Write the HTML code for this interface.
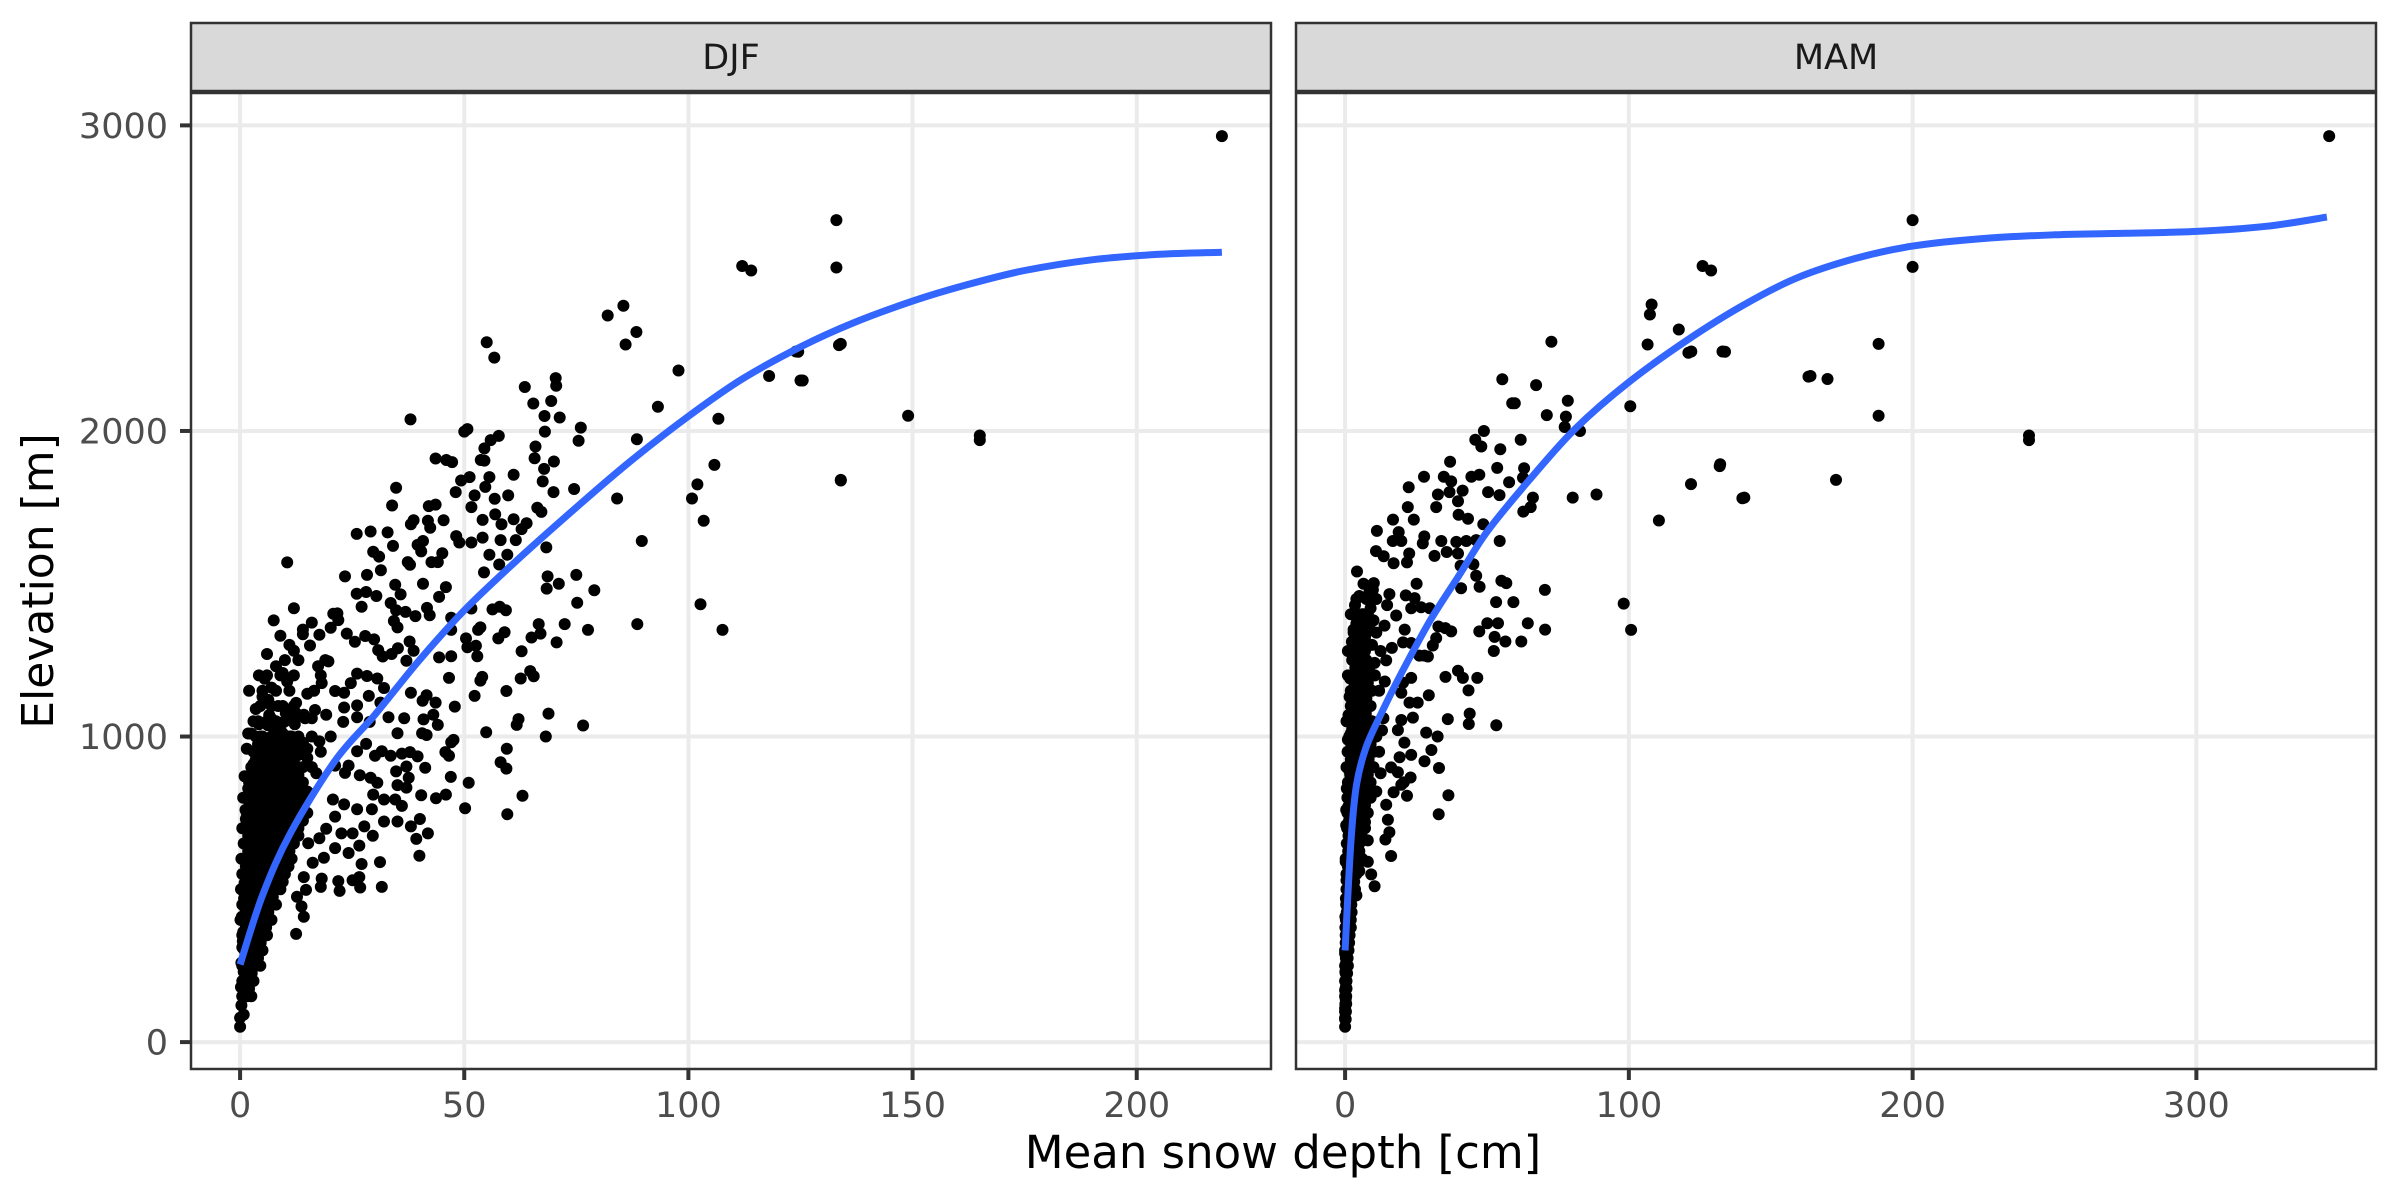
<!DOCTYPE html>
<html><head><meta charset="utf-8"><style>
html,body{margin:0;padding:0;background:#fff;}
svg{display:block;font-family:"DejaVu Sans","Liberation Sans",sans-serif;}
</style></head>
<body>
<svg id="chart" width="2400" height="1200" viewBox="0 0 2400 1200" xmlns="http://www.w3.org/2000/svg">
<rect x="0" y="0" width="2400" height="1200" fill="#fff"/>
<g id="layer"></g>
<text x="1283" y="1168" font-size="45" text-anchor="middle" fill="#000">Mean snow depth [cm]</text>
<text transform="translate(53,581) rotate(-90)" font-size="44" text-anchor="middle" fill="#000">Elevation [m]</text>
</svg>
<script>
const yTicks = [0, 1000, 2000, 3000];
const djfXTicks = [0, 50, 100, 150, 200];
const mamXTicks = [0, 100, 200, 300];
const djfCurve = [[0,254],[5,480],[11.2,683],[21.2,921],[30,1070],[40,1250],[50,1413],[62,1580],[75,1750],[87,1900],[100,2048],[112,2170],[125,2275],[137,2355],[150,2425],[162,2478],[175,2525],[190,2560],[205,2578],[219,2585]];
const mamCurve = [[0,300],[2,650],[4,840],[7.4,965],[13.3,1086],[20,1210],[30,1380],[40,1525],[50,1670],[64.5,1835],[81,2006],[100,2160],[121,2300],[140,2410],[159,2500],[180,2565],[200,2605],[225,2630],[250,2642],[275,2647],[300,2653],[325,2670],[346,2700]];
const djfPoints = [[219,2965],[133,2690],[133,2535],[112,2540],[114,2525],[134,2285],[149,2050],[165,1985],[165,1970],[134,1840],[124,2260],[125,2165],[118,2180],
[82,2378],[85.5,2410],[88.4,2324],[86,2283],[55,2290],[56.7,2240],[38,2038],[97.8,2198],[93.2,2079],[124.5,2259],[133.6,2281],[125.5,2165],[106.7,2040],[105.8,1889],[102,1825],[100.8,1779],[103.4,1706],[134,1838],[89.6,1640],[84.1,1779],[88.5,1973],[102.7,1433],[107.6,1349],[88.6,1368],[79,1479],[75,1529],[75.2,1438],[77.6,1349],[76.5,1036],[68.2,1000],[59.5,960],[59.6,746],[63,806],[51,849],[50.2,765],[70.4,2173],[70.5,2148],[63.5,2144],[65.4,2090],[69.4,2098],[67.9,2049],[71.3,2044],[76,2011],[75.5,1968],[68,1998],[65.9,1949],[65.7,1911],[70,1900],[67.8,1876],[67.5,1835],[69.9,1800],[74.5,1810],[66.3,1749],[67.2,1735],[61,1857],[57.7,1984],[55.9,1970],[54.5,1943],[50.7,2006],[50,1998],[54.5,1903],[53.7,1905],[55.6,1849],[54.7,1817],[56.8,1778],[59.8,1789],[43.6,1910],[46,1905],[47.3,1898],[49.3,1838],[51.2,1849],[48.1,1800],[52.3,1789],[51.6,1751],[54.1,1709],[56.9,1727],[58.3,1695],[61,1711],[63.9,1698],[62.8,1679],[61.5,1643],[58.1,1643],[54.1,1651],[51.6,1635],[48.9,1635],[48.2,1656],[55.6,1595],[57.8,1563],[59.6,1595],[54.4,1537],[68.3,1619],[68.6,1524],[71.1,1500],[68.4,1484],[66.6,1368],[65,1324],[67,1337],[70.6,1308],[72.4,1368],[62.8,1279],[62.6,1190],[65.5,1197],[64.7,1214],[59.4,1149],[59.3,1413],[57.9,1425],[56.3,1416],[57.6,1321],[59,1341],[53.1,1349],[53.6,1357],[51.6,1419],[47.1,1389],[47.1,1349],[50.4,1321],[50.7,1292],[52.6,1297],[52.9,1263],[44.4,1259],[47.1,1263],[46.6,1192],[54,1195],[53.6,1183],[52.3,1133],[47.9,1098],[54.9,1014],[61.7,1038],[62.1,1057],[68.8,1075],[58.1,916],[59.4,895],[45.8,949],[46.6,937],[47.1,981],[47.6,989],[47,868],[45.9,810],[43.7,798],[40.4,808],[41.3,898],[39.6,935],[37.1,902],[34.8,886],[40.1,730],[41.9,683],[39.3,665],[40,610],[31.6,508],[31.2,589],[26.8,506],[22.2,495],[21.9,527],[25.1,530],[26.6,540],[27.1,583],[18,508],[18.2,535],[14.7,498],[14.2,410],[12.5,354],[13.7,444],[10.5,1570],[5.5,1189],[9.5,1208],[12,1281],[14,1335],[16,1373],[17.7,1333],[15.6,1298],[20.2,1356],[21.7,1403],[23.4,1524],[26,1663],[29.1,1671],[32.9,1668],[34.1,1624],[34.8,1814],[33.9,1756],[29.7,1605],[31,1589],[31.4,1544],[28.3,1529],[26,1467],[28.1,1473],[30.4,1460],[27.1,1425],[34.6,1497],[35.8,1465],[33.6,1437],[34.8,1413],[34.3,1378],[35.1,1357],[36.9,1408],[38.1,1695],[38.7,1708],[41.9,1706],[42.4,1683],[42.1,1754],[43.6,1759],[45.4,1708],[39.6,1627],[40.8,1640],[40.4,1606],[42.7,1571],[44.1,1571],[45.1,1600],[37.4,1571],[37.9,1562],[40.8,1500],[45.9,1489],[44.4,1457],[41.7,1421],[42.3,1397],[39.1,1394],[37.8,1311],[38.7,1281],[35.2,1289],[37.1,1248],[33.8,1270],[31.8,1262],[30.8,1283],[29.9,1318],[27.9,1329],[25.6,1310],[23.8,1337],[21.9,1381],[20.8,1402],[19.7,1246],[17.4,1230],[18.2,1175],[21.2,1149],[23.2,1143],[24.7,1175],[26.1,1206],[28.3,1198],[30.6,1190],[32.1,1159],[31.3,1111],[28.7,1133],[26.1,1102],[23.2,1095],[19.2,1071],[16.7,1087],[14.2,1071],[12.5,1076],[10.2,1076],[6.9,1060],[6.2,1037],[9,1027],[6.9,982],[5,933],[9.8,971],[12.2,976],[15,960],[17.7,984],[20.2,1000],[23,1048],[26.1,1063],[28.9,1048],[33.1,1063],[36.6,1060],[35.1,1011],[38.1,1143],[40.7,1117],[41.6,1135],[43.6,1111],[43.1,1071],[40.9,1056],[40.6,1011],[41.6,1005],[44.1,1038],[37.9,949],[36.1,944],[33.6,937],[31.6,952],[30.1,937],[28.1,976],[26.1,952],[24.2,905],[21.2,905],[23.4,881],[26.7,873],[29.1,865],[30.6,849],[35.1,841],[37.6,865],[37.1,833],[34.6,794],[36.1,773],[32.1,794],[29.7,810],[29.4,762],[26.1,762],[23.2,778],[20.7,794],[21.2,738],[19.2,698],[22.6,683],[25.1,683],[27.7,706],[29.6,675],[32.1,722],[35.1,722],[38.1,706],[26.6,643],[24.2,619],[21.2,635],[18.7,603],[17.7,667],[16.2,587],[15.2,651],[14.2,540],[12.7,476],
[0,50],[0,80],[0.3,120],[0.5,150],[0.2,180],[1,200],[0.8,230],[1.5,250],[0.3,260],[1.2,280],[2,300],[0.5,310],[1.8,330],[2.5,350],[0.7,360],[1.3,380],[3,390],[2.2,400],[0.4,410],[3.5,420],[1.6,440],[2.8,450],[4,460],[0.9,470],[3.3,480],[4.5,490],[2,500],[1,520],[3.8,530],[5,540],[2.6,550],[4.4,560],[6,570],[1.4,580],[3.1,590],[5.5,600],[7,610],[2.3,620],[4,630],[6.5,640],[0.8,650],[3.5,660],[5,670],[8,680],[2,690],[4.6,700],[7.5,710],[9,720],[1.3,730],[3,740],[6,750],[10,760],[5.2,770],[8.5,780],[2.5,790],[4,800],[7,810],[11,820],[1.8,830],[6.3,840],[9.5,850],[3.6,860],[5.8,870],[12,880],[8,890],[2.8,900],[4.8,910],[10.5,920],[7,930],[13,940],[3.8,950],[6,960],[9,970],[14,980],[5,990],[11.5,1000],[2.5,1010],[7.8,1020],[4.2,1040],[10,1050],[16,1060],[6.5,1070],[3.5,1090],[8.5,1100],[12.5,1110],[5,1130],[15,1140],[7,1160],[10.5,1180],[4.2,1200],[8,1230],[13,1250],[6,1270],[11,1300],[9,1330],[14,1350],[7.5,1380],[12,1420],[10,1250],[2,1150],[3,1050],[1.5,960],[1,870],[1.2,760],[0.5,700],[0.3,600],[0.2,500],[0.1,400],[0.6,330],[1.1,440],[2,410],[3,330],[2.6,260],[1.5,170],[0.8,90],[4,370],[5,430],[6,500],[7,540],[8,600],[9,650],[10,700],[11,740],[12,790],[13,840],[14,900],[15,930],[16,1000],[3,560],[4.5,610],[5.5,720],[6.5,780],[7.5,850],[8.5,920],[9.5,1010],[2,650],[3.2,700],[4.3,830],[5.8,940],[1.5,560],[2.4,470],[11,640],[9.8,580],[8.2,520],[12.5,700],[13.8,760],[15,820],[17,880],[18,950],[3.7,620],[6.8,680],[9.2,800],[10.8,880],[11.5,960],[12.2,1040],[4.6,1000],[6.3,1120],[1.8,1010],[3,910],[2.1,780],[0.7,800],[5.6,350],[3.5,280],[1.7,230],[7,460],[6,420],[14.5,1060],[16.5,1150],[18,1200],[19,1250]];
// dense core rows: [elevation, depths at that elevation]
const djfCoreRows = [[150,[0.5,1.5,2.5]],[175,[1,2]],[200,[0.5,2,3]],[225,[1.2,2.6]],[250,[0.5,2,3.5,4.5]],[275,[1.3,2.8,4]],[300,[1,2.5,4,5]],[325,[1.7,3.2,4.6]],[350,[0.5,2,3.5,5,6]],[375,[1.3,2.8,4.3,5.8]],[400,[1,2.5,4,5.5,7]],[425,[1.8,3.2,4.8,6.3]],[450,[0.5,2,3.5,5,6.5,8]],[475,[1.3,2.8,4.3,5.8,7.3]],[500,[1,2.5,4,5.5,7,9]],[525,[1.7,3.2,4.8,6.3,7.8,9.5]],[550,[0.5,2,3.5,5,6.5,8,10]],[575,[1.3,2.8,4.3,5.8,7.5,9,10.8]],[600,[1,2.5,4,5.5,7,8.5,10,11.5]],[625,[1.8,3.3,4.8,6.3,7.8,9.3,11]],[650,[1,2.5,4,5.5,7,8.5,10,12]],[675,[1.8,3.3,4.8,6.5,8,9.8,11.5,13]],[700,[1.5,3,4.5,6,7.5,9,11,13]],[725,[2.3,3.8,5.3,6.8,8.3,10,12,14]],[750,[1.5,3,4.5,6,7.5,9,11,13,15]],[775,[2.5,4,5.5,7,8.8,10.2,12,14]],[800,[2,3.5,5,6.5,8,9.5,11,13,15]],[825,[2.8,4.3,5.8,7.3,9,10.5,12.2,14]],[850,[2,3.5,5,6.5,8,10,12,14]],[875,[3,4.5,6,7.5,9,11,13]],[900,[2.5,4,5.5,7,9,11,13,16]],[925,[3.5,5,6.5,8,10,12]],[950,[3,4.5,6,8,10,12,14]],[975,[4,5.5,7,9,11]],[1000,[3.5,5,7,9,11,13]],[1050,[4,6,8,10,12]],[1100,[4.5,7,9.5,12]],[1150,[5,8,11]],[1200,[6,9,12]]];
const mamPoints = [[346.8,2965],[200,2690],[200,2537],[126,2540],[129,2525],[188,2285],[188,2050],[241,1985],[241,1970],[173,1840],[164,2180],[170,2170],[132,1885],[140,1780],[122,2260],[133,2260],
[108,2414],[107.4,2381],[106.6,2283],[117.6,2332],[121,2256],[133.9,2259],[163.3,2178],[100.5,2081],[72.7,2292],[55.4,2169],[67.3,2150],[58.9,2091],[59.8,2091],[78.5,2099],[77.8,2047],[71.1,2052],[77.4,2013],[82.8,2000],[48.9,2000],[45.9,1971],[48,1949],[61.9,1971],[54.7,1940],[37,1899],[27.8,1850],[34.8,1850],[37.4,1835],[44.5,1850],[47.3,1857],[53.6,1879],[63.1,1878],[62.7,1847],[57.8,1832],[50.4,1800],[54.4,1790],[22.4,1816],[32.7,1792],[36.8,1800],[41.4,1805],[39.8,1770],[32.1,1751],[22.1,1751],[24.2,1710],[40,1726],[43.3,1713],[66.2,1782],[65.4,1751],[62.8,1736],[80.2,1782],[88.6,1792],[132.2,1891],[121.9,1826],[140.7,1782],[110.6,1707],[48.7,1695],[54.5,1640],[16.9,1710],[18.9,1669],[11.2,1673],[16.8,1640],[19.8,1640],[27.9,1655],[27.4,1632],[33.9,1640],[39.2,1637],[42.7,1640],[46.2,1643],[10.9,1607],[13.6,1590],[17.1,1567],[21.8,1570],[22.6,1599],[31.5,1591],[35.8,1604],[39.8,1599],[40.7,1559],[45.2,1564],[46.2,1526],[40.9,1485],[47.4,1490],[55.1,1510],[56.8,1502],[70.4,1480],[98.2,1435],[100.8,1349],[53.2,1440],[59.3,1440],[50.1,1371],[53.9,1371],[47.3,1344],[52.7,1326],[56.5,1311],[62.1,1311],[64.4,1371],[70.5,1350],[52.4,1280],[37.4,1344],[35.3,1355],[32.9,1360],[32.1,1322],[30.9,1298],[28,1265],[35.4,1195],[39.8,1215],[41.5,1192],[46.6,1192],[43.5,1151],[29.5,1135],[43.9,1075],[36.2,1057],[43.6,1041],[53.3,1037],[28.6,1013],[32.6,1000],[30.4,956],[28,919],[33.1,897],[23.1,866],[20.7,850],[36.4,808],[33,746],[21.8,806],[16.2,609],[10.4,510],[25.2,1500],[10.1,1502],[8.6,1474],[15.6,1466],[21.4,1462],[24.5,1453],[23.3,1420],[26.8,1423],[29.8,1420],[14.8,1430],[18,1396],[13.9,1363],[21,1350],[20.4,1308],[23.3,1306],[26.2,1265],[29.2,1262],[16.5,1290],[14.5,1249],[10.4,1241],[23.3,1192],[20.4,1176],[19.8,1143],[22.7,1111],[25.6,1111],[23.9,1062],[19.8,1054],[18.6,1021],[20.9,980],[23.3,940],[19.2,932],[16.2,899],[18.6,883],[19.8,842],[17.1,818],[14.5,777],[15.1,728],[15.6,687],[14.2,663],[9.2,549],[8,590],
[0,50],[0,80],[0,110],[0.2,140],[0,170],[0.3,200],[0.1,230],[0.4,260],[0,290],[0.5,320],[0.2,350],[0.7,380],[0.1,410],[0.9,440],[0.3,470],[1.2,500],[0.5,530],[1.5,560],[0.2,590],[1.8,620],[0.8,650],[2.2,680],[0.4,710],[2.6,740],[1.1,770],[3,800],[0.6,830],[3.5,860],[1.4,890],[4,920],[0.9,950],[4.5,980],[2,1010],[5,1040],[1.2,1070],[5.5,1100],[2.5,1130],[6,1160],[1.8,1190],[6.5,1220],[3,1250],[7,1280],[2.4,1310],[7.5,1340],[4,1370],[8,1400],[3.5,1430],[5,1460],[6.5,1500],[4.2,1540],[9,1420],[10,1380],[11,1340],[9.5,1300],[8.5,1240],[10.5,1200],[12,1150],[8,1100],[9.5,1050],[11,1000],[7,1000],[8.5,960],[6,900],[7.5,860],[10,900],[12,950],[13,1020],[9,800],[6.5,760],[5,700],[4,640],[3,580],[2,520],[1.5,450],[1,380],[0.6,300],[0.3,180],[0.1,120],[5.5,820],[4.5,760],[3.8,700],[2.8,640],[7,720],[8,660],[6,600],[5,560],[4,480],[11,820],[12.5,880],[13.5,1060],[14,1180],[12.5,1280],[11,1450],[2,940],[1,990],[0.5,900],[1.6,1130],[1,1200],[0.5,1050],[3,1340],[2,1400],[4.5,1200],[5.5,1300],[6,1400],[1,1280],[3.5,1050],[2.5,850],[1.5,720],[0.2,600],[0.4,760],[0.7,550],[6.8,1050],[7.7,1170],[8.8,1350],[9.8,1480],[4.8,1100],[3.2,900]];
const mamCoreRows = [[75,[0,0.2]],[100,[0,0.3]],[125,[0.1,0.4]],[150,[0,0.4]],[175,[0.2,0.5]],[200,[0,0.5]],[225,[0.2,0.7]],[250,[0,0.6,1]],[275,[0.3,0.9]],[300,[0,0.5,1.2]],[325,[0.2,0.8,1.4]],[350,[0.3,1,1.6]],[375,[0.1,0.7,1.4,2]],[400,[0.3,1,2]],[425,[0.6,1.5,2.3]],[450,[0.4,1.2,2.2]],[475,[0.8,1.8,2.8]],[500,[0.5,1.4,2.5,3.5]],[525,[1,2,3.2]],[550,[0.5,1.5,2.8,4]],[575,[1,2.2,3.5,4.5]],[600,[0.6,1.6,3,4.5]],[625,[1.1,2.4,3.8,5]],[650,[0.6,1.8,3.2,5]],[675,[1.2,2.6,4.2,5.8]],[700,[0.7,2,3.5,5.5,7]],[725,[1.4,2.8,4.6,6.5]],[750,[0.8,2,3.8,6,8]],[775,[1.5,3,5,7]],[800,[0.8,2.2,4,6,8.5]],[825,[1.6,3.2,5.2,7.3]],[850,[1,2.5,4.5,6.5,9]],[875,[1.8,3.6,5.8,8]],[900,[1,2.8,5,7,9.5]],[925,[2,4,6,8.3]],[950,[1.2,3,5,7.5,10]],[975,[2.2,4.2,6.5,9]],[1000,[1.5,3.2,5.5,8,10.5]],[1025,[2.5,4.5,7,9.5]],[1050,[1.5,3.5,6,8.5]],[1075,[2.8,5,7.3]],[1100,[2,4,6,9]],[1125,[3,5,7.5]],[1150,[2,4.2,6.5,9.5]],[1175,[3.3,5.5,8]],[1200,[2.5,4.5,7,10]],[1225,[3.6,6,8.5]],[1250,[2.5,5,7.5]],[1275,[4,6.3]],[1300,[3,5.5,8]],[1325,[4.2,7]],[1350,[3,6,8.5]],[1375,[4.7,7.3]],[1400,[3.5,6.5]],[1450,[4,7.5]]];

const NS = 'http://www.w3.org/2000/svg';
const layer = document.getElementById('layer');
const yTop = 93, yBot = 1069, yMin = -88, yMax = 3106;
function yScale(v){ return yBot - (v - yMin) / (yMax - yMin) * (yBot - yTop); }
function mk(tag, attrs, parent){
  const e = document.createElementNS(NS, tag);
  for (const k in attrs) e.setAttribute(k, attrs[k]);
  (parent || layer).appendChild(e);
  return e;
}
function smoothPath(pts){
  let d = 'M' + pts[0][0].toFixed(1) + ',' + pts[0][1].toFixed(1);
  for (let i = 0; i < pts.length - 1; i++){
    const p0 = pts[i-1] || pts[i], p1 = pts[i], p2 = pts[i+1], p3 = pts[i+2] || p2;
    const c1x = p1[0] + (p2[0]-p0[0])/6, c1y = p1[1] + (p2[1]-p0[1])/6;
    const c2x = p2[0] - (p3[0]-p1[0])/6, c2y = p2[1] - (p3[1]-p1[1])/6;
    d += ' C' + c1x.toFixed(1) + ',' + c1y.toFixed(1) + ' ' + c2x.toFixed(1) + ',' + c2y.toFixed(1) + ' ' + p2[0].toFixed(1) + ',' + p2[1].toFixed(1);
  }
  return d;
}
function drawPanel(name, label, left, right, xMax, xTicks, points, coreRows, curve){
  const xMin = -0.05 * xMax, xHi = 1.05 * xMax;
  const xs = v => left + (v - xMin) / (xHi - xMin) * (right - left);
  const g = mk('g', {});
  
  
  const bg = mk('rect', {x:left, y:yTop, width:right-left, height:yBot-yTop, fill:'#fff'}, g);
  
  
  yTicks.forEach(t => {
    const l = mk('line', {x1:left, x2:right, y1:yScale(t), y2:yScale(t), stroke:'#EBEBEB', 'stroke-width':4}, g);
    
    
  });
  xTicks.forEach(t => {
    const l = mk('line', {x1:xs(t), x2:xs(t), y1:yTop, y2:yBot, stroke:'#EBEBEB', 'stroke-width':4}, g);
    
    
  });
  const pg = mk('g', {fill:'#000'}, g);
  
  
  const all = points.slice();
  coreRows.forEach(r => r[1].forEach(dv => all.push([dv, r[0]])));
  all.forEach(p => {
    const c = mk('circle', {cx:xs(p[0]).toFixed(1), cy:yScale(p[1]).toFixed(1), r:6}, pg);
    
    
  });
  const pix = curve.map(p => [xs(p[0]), yScale(p[1])]);
  const path = mk('path', {d:smoothPath(pix), fill:'none', stroke:'#3366FF', 'stroke-width':7, 'stroke-linejoin':'round'}, g);
  
  
  const border = mk('rect', {x:left, y:yTop, width:right-left, height:yBot-yTop, fill:'none', stroke:'#333', 'stroke-width':2.5}, g);
  
  
  const strip = mk('rect', {x:left, y:23, width:right-left, height:68, fill:'#D9D9D9', stroke:'#333', 'stroke-width':2.5}, g);
  
  
  const st = mk('text', {x:(left+right)/2, y:69, 'font-size':35, 'text-anchor':'middle', fill:'#1A1A1A'}, g);
  st.textContent = label;
  
  
  xTicks.forEach(t => {
    const tk = mk('line', {x1:xs(t), x2:xs(t), y1:yBot, y2:yBot+11, stroke:'#333', 'stroke-width':4}, g);
    
    
    const tx = mk('text', {x:xs(t), y:1117, 'font-size':35, 'text-anchor':'middle', fill:'#4D4D4D'}, g);
    tx.textContent = String(t);
    
    
  });
}
drawPanel('djf', 'DJF', 191, 1271, 219, djfXTicks, djfPoints, djfCoreRows, djfCurve);
drawPanel('mam', 'MAM', 1296, 2376, 346, mamXTicks, mamPoints, mamCoreRows, mamCurve);
yTicks.forEach(t => {
  const tk = mk('line', {x1:180, x2:191, y1:yScale(t), y2:yScale(t), stroke:'#333', 'stroke-width':4});
  
  
  const tx = mk('text', {x:168, y:yScale(t)+12.5, 'font-size':35, 'text-anchor':'end', fill:'#4D4D4D'});
  tx.textContent = String(t);
  
  
});
</script>
</body></html>
